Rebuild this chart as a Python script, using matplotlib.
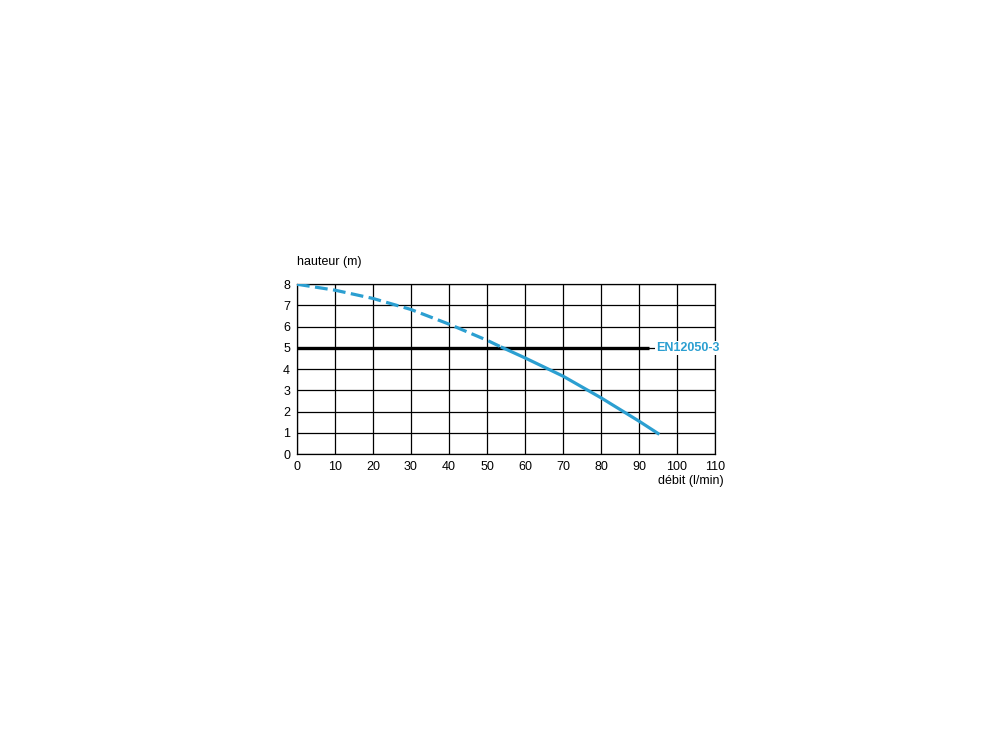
import matplotlib.pyplot as plt
import numpy as np

# courbe de la pompe (débit l/min, hauteur m)
debit_pointilles = [0, 10, 20, 30, 40, 50, 54]
hauteur_pointilles = [8.0, 7.72, 7.33, 6.81, 6.12, 5.36, 5.02]
debit_plein = [54, 60, 70, 80, 90, 95]
hauteur_plein = [5.02, 4.53, 3.67, 2.65, 1.55, 0.97]

norme_hauteur = 5
norme_debit_max = 92.5
norme_label = "EN12050-3"

x_ticks = [0, 10, 20, 30, 40, 50, 60, 70, 80, 90, 100, 110]
y_ticks = [0, 1, 2, 3, 4, 5, 6, 7, 8]

plt.rcParams['font.family'] = ['Liberation Sans', 'DejaVu Sans']

bleu = "#2b9fd1"
taille = 9

fig = plt.figure(figsize=(10, 7.48), dpi=100)
ax = fig.add_axes([0.297, 0.393, 0.418, 0.227])

ax.set_xlim(0, 110)
ax.set_ylim(0, 8)
ax.set_xticks(x_ticks)
ax.set_yticks(y_ticks)
ax.grid(True, color="black", lw=0.9)
ax.set_axisbelow(True)
for s in ax.spines.values():
    s.set_color("black")
    s.set_linewidth(0.9)
ax.tick_params(length=0, labelsize=taille, pad=5)

ax.plot(debit_pointilles, hauteur_pointilles, color=bleu, lw=2.3,
        dashes=(4, 1.7), solid_capstyle="butt", zorder=3)
ax.plot(debit_plein, hauteur_plein, color=bleu, lw=2.3, zorder=4)
ax.plot([0, norme_debit_max], [norme_hauteur, norme_hauteur], color="black",
        lw=2.4, solid_capstyle="butt", zorder=2, clip_on=False)
ax.text(norme_debit_max + 2.0, norme_hauteur, norme_label, color=bleu,
        fontsize=taille, fontweight="bold", va="center", ha="left", zorder=5,
        bbox=dict(facecolor="white", edgecolor="none", pad=1.0))

ax.text(0, 8.75, "hauteur (m)", fontsize=taille, ha="left", va="bottom",
        clip_on=False)
ax.text(112.3, -1.0, "débit (l/min)", fontsize=taille, ha="right", va="top",
        clip_on=False)

fig.savefig("out.png", dpi=100)
